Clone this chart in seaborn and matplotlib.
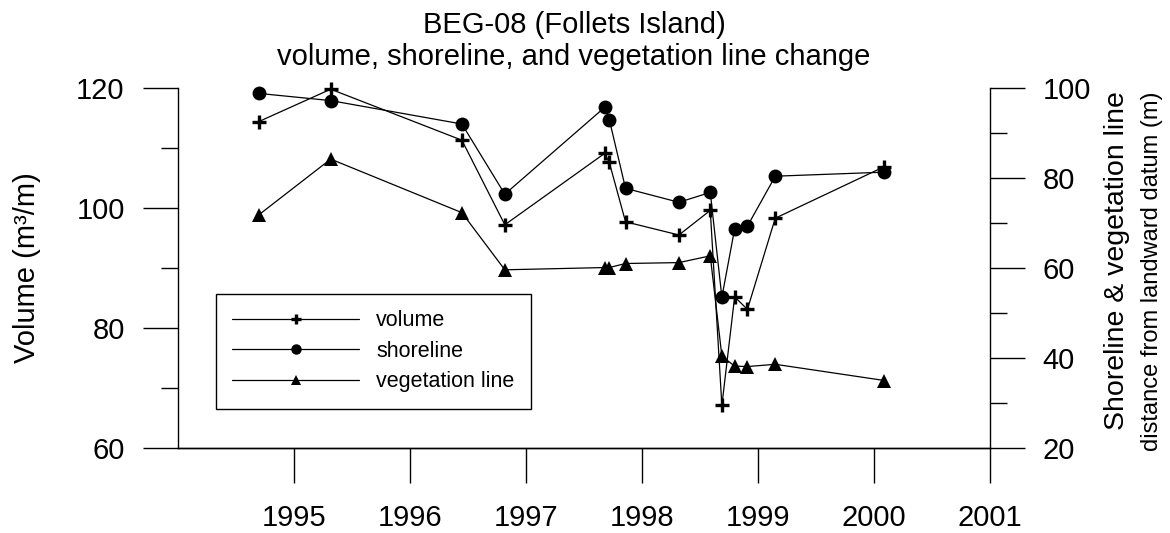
import seaborn as sns
import matplotlib.pyplot as plt
from matplotlib.ticker import MultipleLocator

# survey dates (decimal year)
years = [1994.70, 1995.32, 1996.45, 1996.82, 1997.68, 1997.72, 1997.86,
         1998.32, 1998.59, 1998.69, 1998.80, 1998.91, 1999.15, 2000.09]

volume = [114.4, 119.8, 111.3, 97.2, 109.1, 107.6, 97.7,
          95.5, 99.6, 67.1, 85.2, 83.1, 98.3, 106.9]
shoreline = [98.8, 97.2, 92.0, 76.4, 95.7, 93.0, 77.7,
             74.6, 76.8, 53.5, 68.7, 69.3, 80.4, 81.3]
vegetation = [71.8, 84.2, 72.3, 59.6, 60.1, 60.1, 61.0,
              61.2, 62.7, 40.4, 38.2, 38.1, 38.6, 35.0]

year_ticks = [1995, 1996, 1997, 1998, 1999, 2000, 2001]

sns.set_style("ticks")
plt.rcParams["font.family"] = ["Liberation Sans", "DejaVu Sans"]
plt.rcParams["text.color"] = "black"
plt.rcParams["xtick.color"] = "black"
plt.rcParams["ytick.color"] = "black"
plt.rcParams["axes.edgecolor"] = "black"

fig = plt.figure(figsize=(11.7, 5.33), dpi=100)
ax = fig.add_axes([177.5 / 1170, 1 - 448 / 533, 812.5 / 1170, 360 / 533])
ax2 = ax.twinx()

lw = 0.9
sns.lineplot(x=years, y=volume, ax=ax, color="black", lw=lw,
             marker="+", markersize=9.5, markeredgewidth=2.4,
             markeredgecolor="black", label="volume", legend=False,
             clip_on=False)
sns.lineplot(x=years, y=shoreline, ax=ax2, color="black", lw=lw,
             marker="o", markersize=10, markeredgewidth=0,
             markeredgecolor="black", label="shoreline", legend=False,
             clip_on=False)
sns.lineplot(x=years, y=vegetation, ax=ax2, color="black", lw=lw,
             marker="^", markersize=9.5, markeredgewidth=0,
             markeredgecolor="black", label="vegetation line", legend=False,
             clip_on=False)

ax.set_xlim(1994, 2001)
ax.set_ylim(60, 120)
ax2.set_ylim(20, 100)
ax.set_xticks(year_ticks)
ax.set_xticklabels([str(y) for y in year_ticks])
ax.yaxis.set_major_locator(MultipleLocator(20))
ax.yaxis.set_minor_locator(MultipleLocator(10))
ax2.yaxis.set_major_locator(MultipleLocator(20))
ax2.yaxis.set_minor_locator(MultipleLocator(10))
ax.set_xlabel("")
ax.set_ylabel("")
ax2.set_ylabel("")

for a in (ax, ax2):
    a.spines["top"].set_visible(False)
    for s in a.spines.values():
        s.set_linewidth(1.0)
        s.set_color("black")
ax2.spines["left"].set_visible(False)
ax.spines["right"].set_visible(False)

ax.tick_params(axis="x", length=25, width=1, pad=15, labelsize=21)
ax.tick_params(axis="y", which="major", length=25, width=1, pad=13, labelsize=21)
ax.tick_params(axis="y", which="minor", length=12, width=1)
ax2.tick_params(axis="y", which="major", length=25, width=1, pad=13, labelsize=21)
ax2.tick_params(axis="y", which="minor", length=12, width=1)

# legend with both axes' entries
h1, l1 = ax.get_legend_handles_labels()
h2, l2 = ax2.get_legend_handles_labels()
leg = ax2.legend(h1 + h2, l1 + l2, loc="upper left",
                 bbox_to_anchor=(0.0474, 0.428), borderaxespad=0,
                 fontsize=15.5, handlelength=5.9, handletextpad=0.8,
                 labelspacing=0.45, borderpad=0.75, frameon=True,
                 fancybox=False, markerscale=0.75)
leg.get_frame().set_edgecolor("black")
leg.get_frame().set_linewidth(1.0)
leg.get_frame().set_alpha(1)

fig.text(574 / 1170, 1 - 11 / 533,
         "BEG-08 (Follets Island)\nvolume, shoreline, and vegetation line change",
         ha="center", va="top", fontsize=21, linespacing=1.2)

fig.text(27 / 1170, 0.497, "Volume (m³/m)", rotation=90,
         ha="center", va="center", fontsize=21)
fig.text(1117 / 1170, 1 - 261 / 533, "Shoreline & vegetation line", rotation=90,
         ha="center", va="center", fontsize=20.5)
fig.text(1152 / 1170, 1 - 271 / 533, "distance from landward datum (m)", rotation=90,
         ha="center", va="center", fontsize=17)

fig.savefig("out.png", dpi=100)
